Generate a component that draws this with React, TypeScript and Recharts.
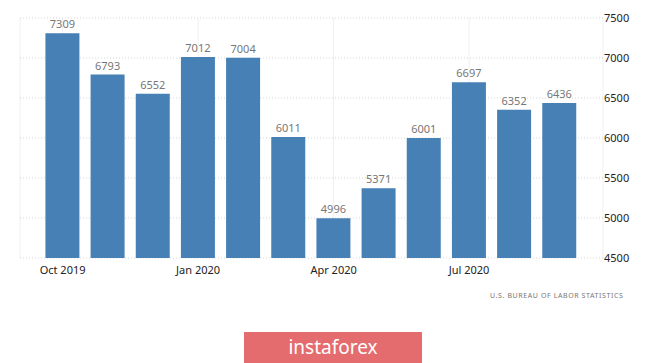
import { BarChart, Bar, XAxis, YAxis, CartesianGrid, LabelList } from 'recharts';

const months = [
  'Oct 2019', 'Nov 2019', 'Dec 2019', 'Jan 2020', 'Feb 2020', 'Mar 2020',
  'Apr 2020', 'May 2020', 'Jun 2020', 'Jul 2020', 'Aug 2020', 'Sep 2020',
];
const openings = [7309, 6793, 6552, 7012, 7004, 6011, 4996, 5371, 6001, 6697, 6352, 6436];
const yTicks = [4500, 5000, 5500, 6000, 6500, 7000, 7500];

const data = months.map((m, i) => ({ month: m, value: openings[i] }));

const font = '"Noto Sans", "DejaVu Sans", sans-serif';

export default function App() {
  return (
    <div style={{ position: 'absolute', left: 0, top: 0, width: 665, height: 363, background: '#fff', overflow: 'hidden' }}>
      <BarChart
        width={665}
        height={363}
        data={data}
        margin={{ top: 18, right: 22, bottom: 0, left: 20 }}
        barCategoryGap="12%"
      >
        <CartesianGrid horizontal={false} stroke="#f0f0f0" />
        <CartesianGrid vertical={false} stroke="#d6d6d6" strokeDasharray="1 2" />
        <XAxis
          dataKey="month"
          interval={2}
          padding={{ left: 20, right: 21 }}
          height={105}
          axisLine={false}
          tickLine={false}
          tickMargin={2}
          tick={{ fill: '#222', fontSize: 11, fontFamily: font }}
        />
        <YAxis
          orientation="right"
          domain={[4500, 7500]}
          ticks={yTicks}
          width={40}
          axisLine={false}
          tickLine={false}
          tickSize={0}
          tickMargin={1}
          tick={{ fill: '#222', fontSize: 11, fontFamily: font, textAnchor: 'start' }}
        />
        <Bar dataKey="value" fill="#4680b4" isAnimationActive={false}>
          <LabelList dataKey="value" position="top" fill="#777" fontSize={11} fontFamily={font} />
        </Bar>
      </BarChart>
      <div
        style={{
          position: 'absolute', left: 490, top: 291, fontFamily: font, fontSize: 7,
          letterSpacing: 0.6, color: '#777', whiteSpace: 'nowrap',
        }}
      >
        U.S. BUREAU OF LABOR STATISTICS
      </div>
      <div
        style={{
          position: 'absolute', left: 244, top: 332, width: 178, height: 31, background: '#e46c6e',
          color: '#fff', fontFamily: font, fontSize: 19, lineHeight: '30px', textAlign: 'center',
        }}
      >
        instaforex
      </div>
    </div>
  );
}
